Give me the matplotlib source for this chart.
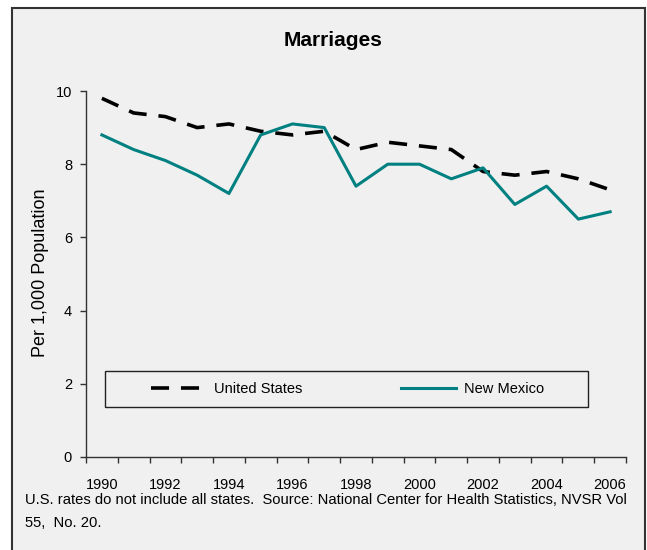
import matplotlib
matplotlib.use("Agg")
import matplotlib.pyplot as plt
from matplotlib.patches import Rectangle
from matplotlib.ticker import FixedLocator

plt.rcParams['font.family'] = ['Liberation Sans', 'DejaVu Sans']

years = list(range(1990, 2007))
us_rates = [9.8, 9.4, 9.3, 9.0, 9.1, 8.9, 8.8, 8.9, 8.4, 8.6, 8.5, 8.4, 7.8, 7.7, 7.8, 7.6, 7.3]
nm_rates = [8.8, 8.4, 8.1, 7.7, 7.2, 8.8, 9.1, 9.0, 7.4, 8.0, 8.0, 7.6, 7.9, 6.9, 7.4, 6.5, 6.7]
series_names = ["United States", "New Mexico"]
title = "Marriages"
ylabel = "Per 1,000 Population"
footnote1 = "U.S. rates do not include all states.  Source: National Center for Health Statistics, NVSR Vol"
footnote2 = "55,  No. 20."

W, H = 647, 550
fig = plt.figure(figsize=(W / 100, H / 100), dpi=100)
fig.patch.set_facecolor('white')

# outer panel
fig.patches.append(Rectangle((12 / W, 1 - 552 / H), (645 - 12) / W, (552 - 8) / H,
                             transform=fig.transFigure, facecolor='#f0f0f0',
                             edgecolor='#333333', linewidth=1.5, zorder=-10))

ax = fig.add_axes([86 / W, 1 - 457 / H, 540 / W, (457 - 91) / H])
ax.set_facecolor('none')
ax.set_zorder(1)

x = list(range(len(years)))
ax.plot(x, us_rates, color='black', linewidth=2.6, linestyle=(0, (5.0, 3.3)),
        label=series_names[0], zorder=3)
ax.plot(x, nm_rates, color='#008080', linewidth=2.2, label=series_names[1], zorder=4)

ax.set_xlim(-0.5, len(years) - 0.5)
ax.set_ylim(0, 10)

for s in ['top', 'right']:
    ax.spines[s].set_visible(False)
for s in ['left', 'bottom']:
    ax.spines[s].set_color('#333333')
    ax.spines[s].set_linewidth(1.0)

ax.set_yticks([0, 2, 4, 6, 8, 10])
ax.tick_params(axis='y', direction='out', length=4, width=1, color='#333333',
               labelsize=10.5, pad=6)

ax.set_xticks(x[::2])
ax.set_xticklabels([str(y) for y in years[::2]])
ax.xaxis.set_minor_locator(FixedLocator([i - 0.5 for i in range(len(years) + 1)]))
ax.tick_params(axis='x', which='major', length=0, labelsize=10.5, pad=15)
ax.tick_params(axis='x', which='minor', direction='out', length=4, width=1, color='#333333')

# legend box
ax.add_patch(Rectangle(((105 - 86) / 540, (457 - 406.7) / 366), (588 - 105) / 540,
                       (406.7 - 370.7) / 366, transform=ax.transAxes,
                       facecolor='#f0f0f0', edgecolor='#222222', linewidth=1.0, zorder=5))
leg = ax.legend(loc='center', bbox_to_anchor=(0.484, 0.1866), ncol=2, frameon=False,
                fontsize=10.5, handlelength=3.8, handletextpad=0.5, columnspacing=6.8)
leg.set_zorder(6)

fig.text(333.5 / W, 1 - 40 / H, title, ha='center', va='center',
         fontsize=15, fontweight='bold')
fig.text(41 / W, 1 - 273 / H, ylabel, rotation=90, ha='center', va='center', fontsize=13)
fig.text(25 / W, 1 - 504 / H, footnote1, ha='left', va='baseline', fontsize=10.6)
fig.text(25 / W, 1 - 527 / H, footnote2, ha='left', va='baseline', fontsize=10.6)

fig.savefig('out.png', dpi=100)
